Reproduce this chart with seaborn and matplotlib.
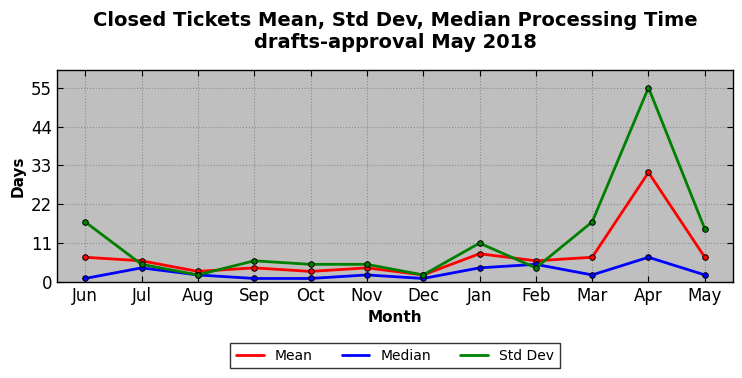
import numpy as np
import pandas as pd
import seaborn as sns
import matplotlib.pyplot as plt
from matplotlib.lines import Line2D

months = ['Jun', 'Jul', 'Aug', 'Sep', 'Oct', 'Nov', 'Dec', 'Jan', 'Feb', 'Mar', 'Apr', 'May']
mean_days = [7, 6, 3, 4, 3, 4, 2, 8, 6, 7, 31, 7]
median_days = [1, 4, 2, 1, 1, 2, 1, 4, 5, 2, 7, 2]
std_days = [17, 5, 2, 6, 5, 5, 2, 11, 4, 17, 55, 15]
yticks = [0, 11, 22, 33, 44, 55]

series = {'Mean': mean_days, 'Median': median_days, 'Std Dev': std_days}
colors = {'Mean': 'red', 'Median': 'blue', 'Std Dev': 'green'}

df = pd.concat([
    pd.DataFrame({'Month': months, 'Days': vals, 'Stat': name, 'pos': np.arange(len(months))})
    for name, vals in series.items()
])

sns.set_style('ticks')
plt.rcParams['font.family'] = ['DejaVu Sans']
plt.rcParams['xtick.direction'] = 'in'
plt.rcParams['ytick.direction'] = 'in'
for key in ['text.color', 'axes.labelcolor', 'xtick.color', 'ytick.color']:
    plt.rcParams[key] = 'black'

fig = plt.figure(figsize=(7.42, 3.78), dpi=100)
ax = fig.add_axes([57 / 742, 1 - 282 / 378, (733 - 57) / 742, (282 - 70) / 378])
ax.set_facecolor('#bfbfbf')

for name in series:
    sub = df[df['Stat'] == name]
    sns.lineplot(data=sub, x='pos', y='Days', ax=ax, color=colors[name], linewidth=2,
                 marker='o', markersize=4, markeredgecolor='black', markeredgewidth=0.7,
                 legend=False, sort=False)

ax.set_xlim(-0.5, len(months) - 0.5)
ax.set_ylim(0, 60)
ax.set_xticks(np.arange(len(months)))
ax.set_xticklabels(months, fontsize=12)
ax.set_yticks(yticks)
ax.set_yticklabels([str(t) for t in yticks], fontsize=12)
ax.tick_params(top=True, right=True, length=4, width=0.8)
ax.grid(True, color='#8c8c8c', linestyle=':', linewidth=0.8)
for sp in ax.spines.values():
    sp.set_linewidth(1.0)
    sp.set_color('black')

ax.set_xlabel('Month', fontsize=11, fontweight='bold')
ax.set_ylabel('Days', fontsize=11, fontweight='bold')
ax.set_title('Closed Tickets Mean, Std Dev, Median Processing Time\ndrafts-approval May 2018',
             fontsize=14, fontweight='bold', pad=16)

handles = [Line2D([], [], color=colors[n], linewidth=2) for n in series]
leg = ax.legend(handles, list(series), loc='upper center', bbox_to_anchor=(0.5, -0.255),
                ncol=3, fontsize=10, frameon=True, fancybox=False, edgecolor='black',
                handlelength=2, columnspacing=2.1, borderpad=0.4)
leg.get_frame().set_linewidth(1.0)

fig.savefig('out.png', dpi=100)
